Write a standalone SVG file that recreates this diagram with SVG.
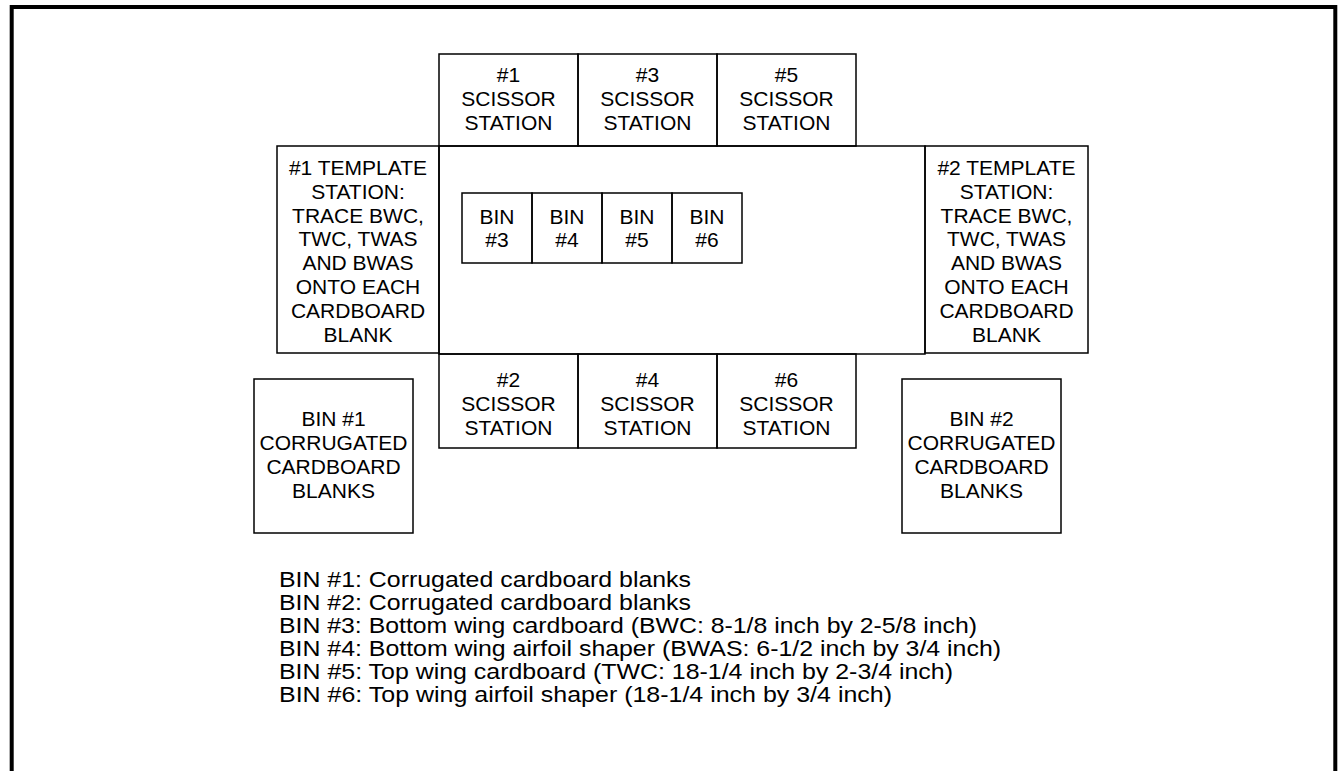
<svg xmlns="http://www.w3.org/2000/svg" width="1339" height="771" viewBox="0 0 1339 771">
<style>
.box{fill:none;stroke:#000;stroke-width:1.5}
.lbl{font-family:"Liberation Sans",Arial,sans-serif;font-size:21px;fill:#000;text-anchor:middle}
.leg{font-family:"Liberation Sans",Arial,sans-serif;font-size:22px;fill:#000}
</style>
<rect width="1339" height="771" fill="#fff"/>
<path d="M11.7 771 V7 H1335.3 V771" fill="none" stroke="#000" stroke-width="4"/>
<g id="table"><rect class="box" x="439" y="146" width="486" height="208"/></g>
<g id="scissor1"><rect class="box" x="439" y="54" width="139" height="92"/><text class="lbl" x="508.5" y="82"><tspan x="508.5">#1</tspan><tspan x="508.5" dy="24">SCISSOR</tspan><tspan x="508.5" dy="24">STATION</tspan></text></g>
<g id="scissor3"><rect class="box" x="578" y="54" width="139" height="92"/><text class="lbl" x="647.5" y="82"><tspan x="647.5">#3</tspan><tspan x="647.5" dy="24">SCISSOR</tspan><tspan x="647.5" dy="24">STATION</tspan></text></g>
<g id="scissor5"><rect class="box" x="717" y="54" width="139" height="92"/><text class="lbl" x="786.5" y="82"><tspan x="786.5">#5</tspan><tspan x="786.5" dy="24">SCISSOR</tspan><tspan x="786.5" dy="24">STATION</tspan></text></g>
<g id="scissor2"><rect class="box" x="439" y="354" width="139" height="94"/><text class="lbl" x="508.5" y="387"><tspan x="508.5">#2</tspan><tspan x="508.5" dy="24">SCISSOR</tspan><tspan x="508.5" dy="24">STATION</tspan></text></g>
<g id="scissor4"><rect class="box" x="578" y="354" width="139" height="94"/><text class="lbl" x="647.5" y="387"><tspan x="647.5">#4</tspan><tspan x="647.5" dy="24">SCISSOR</tspan><tspan x="647.5" dy="24">STATION</tspan></text></g>
<g id="scissor6"><rect class="box" x="717" y="354" width="139" height="94"/><text class="lbl" x="786.5" y="387"><tspan x="786.5">#6</tspan><tspan x="786.5" dy="24">SCISSOR</tspan><tspan x="786.5" dy="24">STATION</tspan></text></g>
<g id="template1"><rect class="box" x="277" y="146" width="162" height="207"/><text class="lbl" x="358" y="175"><tspan x="358">#1 TEMPLATE</tspan><tspan x="358" dy="23.8">STATION:</tspan><tspan x="358" dy="23.8">TRACE BWC,</tspan><tspan x="358" dy="23.8">TWC, TWAS</tspan><tspan x="358" dy="23.8">AND BWAS</tspan><tspan x="358" dy="23.8">ONTO EACH</tspan><tspan x="358" dy="23.8">CARDBOARD</tspan><tspan x="358" dy="23.8">BLANK</tspan></text></g>
<g id="template2"><rect class="box" x="925" y="146" width="163" height="207"/><text class="lbl" x="1006.5" y="175"><tspan x="1006.5">#2 TEMPLATE</tspan><tspan x="1006.5" dy="23.8">STATION:</tspan><tspan x="1006.5" dy="23.8">TRACE BWC,</tspan><tspan x="1006.5" dy="23.8">TWC, TWAS</tspan><tspan x="1006.5" dy="23.8">AND BWAS</tspan><tspan x="1006.5" dy="23.8">ONTO EACH</tspan><tspan x="1006.5" dy="23.8">CARDBOARD</tspan><tspan x="1006.5" dy="23.8">BLANK</tspan></text></g>
<g id="bin3"><rect class="box" x="462" y="193" width="70" height="70"/><text class="lbl" x="497" y="224"><tspan x="497">BIN</tspan><tspan x="497" dy="23">#3</tspan></text></g>
<g id="bin4"><rect class="box" x="532" y="193" width="70" height="70"/><text class="lbl" x="567" y="224"><tspan x="567">BIN</tspan><tspan x="567" dy="23">#4</tspan></text></g>
<g id="bin5"><rect class="box" x="602" y="193" width="70" height="70"/><text class="lbl" x="637" y="224"><tspan x="637">BIN</tspan><tspan x="637" dy="23">#5</tspan></text></g>
<g id="bin6"><rect class="box" x="672" y="193" width="70" height="70"/><text class="lbl" x="707" y="224"><tspan x="707">BIN</tspan><tspan x="707" dy="23">#6</tspan></text></g>
<g id="bin1"><rect class="box" x="254" y="379" width="159" height="154"/><text class="lbl" x="333.5" y="426"><tspan x="333.5">BIN #1</tspan><tspan x="333.5" dy="24">CORRUGATED</tspan><tspan x="333.5" dy="24">CARDBOARD</tspan><tspan x="333.5" dy="24">BLANKS</tspan></text></g>
<g id="bin2"><rect class="box" x="902" y="379" width="159" height="154"/><text class="lbl" x="981.5" y="426"><tspan x="981.5">BIN #2</tspan><tspan x="981.5" dy="24">CORRUGATED</tspan><tspan x="981.5" dy="24">CARDBOARD</tspan><tspan x="981.5" dy="24">BLANKS</tspan></text></g>
<g id="legend">
<text class="leg" x="279" y="587" textLength="412" lengthAdjust="spacingAndGlyphs">BIN #1: Corrugated cardboard blanks</text>
<text class="leg" x="279" y="610" textLength="412" lengthAdjust="spacingAndGlyphs">BIN #2: Corrugated cardboard blanks</text>
<text class="leg" x="279" y="633" textLength="698" lengthAdjust="spacingAndGlyphs">BIN #3: Bottom wing cardboard (BWC: 8-1/8 inch by 2-5/8 inch)</text>
<text class="leg" x="279" y="656" textLength="722" lengthAdjust="spacingAndGlyphs">BIN #4: Bottom wing airfoil shaper (BWAS: 6-1/2 inch by 3/4 inch)</text>
<text class="leg" x="279" y="679" textLength="674" lengthAdjust="spacingAndGlyphs">BIN #5: Top wing cardboard (TWC: 18-1/4 inch by 2-3/4 inch)</text>
<text class="leg" x="279" y="702" textLength="613" lengthAdjust="spacingAndGlyphs">BIN #6: Top wing airfoil shaper (18-1/4 inch by 3/4 inch)</text>
</g>
<g id="connectors"></g>
</svg>
